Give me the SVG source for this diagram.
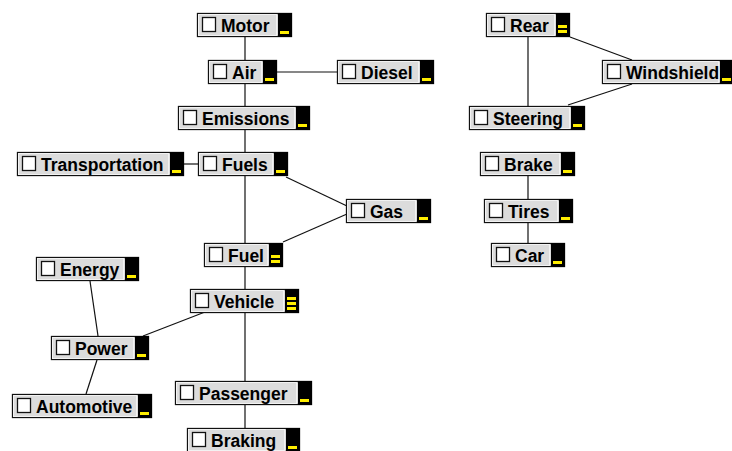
<svg xmlns="http://www.w3.org/2000/svg" width="732" height="451" viewBox="0 0 732 451">
<style>
.bx{fill:#dcdcdc;stroke:#111;stroke-width:1.3}
.bev{fill:none;stroke:#f2f2f2;stroke-width:1}
.blk{fill:#000}
.cb{fill:#fff;stroke:#111;stroke-width:1.3}
.yl{fill:#ffee00}
.lb{font-family:"Liberation Sans",Arial,sans-serif;font-weight:bold;font-size:17.5px;fill:#000}
.cn line{stroke:#111;stroke-width:1.2}
</style>
<rect width="732" height="451" fill="#fff"/>
<g class="cn" id="connectors">
<line x1="245" y1="37" x2="245" y2="60"/>
<line x1="245" y1="84" x2="245" y2="106"/>
<line x1="277" y1="72" x2="337" y2="72"/>
<line x1="245" y1="130" x2="245" y2="152"/>
<line x1="184" y1="164" x2="198" y2="164"/>
<line x1="286" y1="177" x2="347" y2="206"/>
<line x1="347" y1="214" x2="283" y2="242"/>
<line x1="245" y1="176" x2="245" y2="243"/>
<line x1="245" y1="267" x2="245" y2="289"/>
<line x1="205" y1="312" x2="143" y2="336"/>
<line x1="90" y1="281" x2="98" y2="336"/>
<line x1="97" y1="360" x2="86" y2="394"/>
<line x1="245" y1="313" x2="245" y2="381"/>
<line x1="245" y1="405" x2="245" y2="428"/>
<line x1="528" y1="37" x2="528" y2="106"/>
<line x1="570" y1="37" x2="632" y2="60"/>
<line x1="568" y1="105" x2="632" y2="84"/>
<line x1="528" y1="176" x2="528" y2="199"/>
<line x1="528" y1="223" x2="528" y2="243"/>
</g>
<g id="motor" transform="translate(197,13)"><rect class="bx" x="0.5" y="0.5" width="94" height="23"/><rect class="bev" x="1.5" y="1.5" width="78" height="21"/><rect class="blk" x="81" y="0" width="14" height="24"/><rect class="yl" x="83" y="18" width="9" height="3"/><rect class="cb" x="5.5" y="4.5" width="13" height="14"/><text class="lb" x="24" y="19">Motor</text></g>
<g id="air" transform="translate(208,60)"><rect class="bx" x="0.5" y="0.5" width="68" height="23"/><rect class="bev" x="1.5" y="1.5" width="52" height="21"/><rect class="blk" x="55" y="0" width="14" height="24"/><rect class="yl" x="57" y="18" width="9" height="3"/><rect class="cb" x="5.5" y="4.5" width="13" height="14"/><text class="lb" x="24" y="19">Air</text></g>
<g id="diesel" transform="translate(337,60)"><rect class="bx" x="0.5" y="0.5" width="96" height="23"/><rect class="bev" x="1.5" y="1.5" width="80" height="21"/><rect class="blk" x="83" y="0" width="14" height="24"/><rect class="yl" x="85" y="18" width="9" height="3"/><rect class="cb" x="5.5" y="4.5" width="13" height="14"/><text class="lb" x="24" y="19">Diesel</text></g>
<g id="emissions" transform="translate(178,106)"><rect class="bx" x="0.5" y="0.5" width="131" height="23"/><rect class="bev" x="1.5" y="1.5" width="115" height="21"/><rect class="blk" x="118" y="0" width="14" height="24"/><rect class="yl" x="120" y="18" width="9" height="3"/><rect class="cb" x="5.5" y="4.5" width="13" height="14"/><text class="lb" x="24" y="19">Emissions</text></g>
<g id="transportation" transform="translate(17,152)"><rect class="bx" x="0.5" y="0.5" width="166" height="23"/><rect class="bev" x="1.5" y="1.5" width="150" height="21"/><rect class="blk" x="153" y="0" width="14" height="24"/><rect class="yl" x="155" y="18" width="9" height="3"/><rect class="cb" x="5.5" y="4.5" width="13" height="14"/><text class="lb" x="24" y="19">Transportation</text></g>
<g id="fuels" transform="translate(198,152)"><rect class="bx" x="0.5" y="0.5" width="89" height="23"/><rect class="bev" x="1.5" y="1.5" width="73" height="21"/><rect class="blk" x="76" y="0" width="14" height="24"/><rect class="yl" x="78" y="18" width="9" height="3"/><rect class="cb" x="5.5" y="4.5" width="13" height="14"/><text class="lb" x="24" y="19">Fuels</text></g>
<g id="gas" transform="translate(346,199)"><rect class="bx" x="0.5" y="0.5" width="84" height="23"/><rect class="bev" x="1.5" y="1.5" width="68" height="21"/><rect class="blk" x="71" y="0" width="14" height="24"/><rect class="yl" x="73" y="18" width="9" height="3"/><rect class="cb" x="5.5" y="4.5" width="13" height="14"/><text class="lb" x="24" y="19">Gas</text></g>
<g id="fuel" transform="translate(204,243)"><rect class="bx" x="0.5" y="0.5" width="78" height="23"/><rect class="bev" x="1.5" y="1.5" width="62" height="21"/><rect class="blk" x="65" y="0" width="14" height="24"/><rect class="yl" x="67" y="12" width="9" height="3"/><rect class="yl" x="67" y="17" width="9" height="3"/><rect class="cb" x="5.5" y="4.5" width="13" height="14"/><text class="lb" x="24" y="19">Fuel</text></g>
<g id="vehicle" transform="translate(190,289)"><rect class="bx" x="0.5" y="0.5" width="108" height="23"/><rect class="bev" x="1.5" y="1.5" width="92" height="21"/><rect class="blk" x="95" y="0" width="14" height="24"/><rect class="yl" x="97" y="8" width="9" height="3"/><rect class="yl" x="97" y="13" width="9" height="3"/><rect class="yl" x="97" y="18" width="9" height="3"/><rect class="cb" x="5.5" y="4.5" width="13" height="14"/><text class="lb" x="24" y="19">Vehicle</text></g>
<g id="energy" transform="translate(36,257)"><rect class="bx" x="0.5" y="0.5" width="102" height="23"/><rect class="bev" x="1.5" y="1.5" width="86" height="21"/><rect class="blk" x="89" y="0" width="14" height="24"/><rect class="yl" x="91" y="18" width="9" height="3"/><rect class="cb" x="5.5" y="4.5" width="13" height="14"/><text class="lb" x="24" y="19">Energy</text></g>
<g id="power" transform="translate(51,336)"><rect class="bx" x="0.5" y="0.5" width="97" height="23"/><rect class="bev" x="1.5" y="1.5" width="81" height="21"/><rect class="blk" x="84" y="0" width="14" height="24"/><rect class="yl" x="86" y="18" width="9" height="3"/><rect class="cb" x="5.5" y="4.5" width="13" height="14"/><text class="lb" x="24" y="19">Power</text></g>
<g id="automotive" transform="translate(12,394)"><rect class="bx" x="0.5" y="0.5" width="139" height="23"/><rect class="bev" x="1.5" y="1.5" width="123" height="21"/><rect class="blk" x="126" y="0" width="14" height="24"/><rect class="yl" x="128" y="18" width="9" height="3"/><rect class="cb" x="5.5" y="4.5" width="13" height="14"/><text class="lb" x="24" y="19">Automotive</text></g>
<g id="passenger" transform="translate(175,381)"><rect class="bx" x="0.5" y="0.5" width="136" height="23"/><rect class="bev" x="1.5" y="1.5" width="120" height="21"/><rect class="blk" x="123" y="0" width="14" height="24"/><rect class="yl" x="125" y="18" width="9" height="3"/><rect class="cb" x="5.5" y="4.5" width="13" height="14"/><text class="lb" x="24" y="19">Passenger</text></g>
<g id="braking" transform="translate(187,428)"><rect class="bx" x="0.5" y="0.5" width="112" height="23"/><rect class="bev" x="1.5" y="1.5" width="96" height="21"/><rect class="blk" x="99" y="0" width="14" height="24"/><rect class="yl" x="101" y="18" width="9" height="3"/><rect class="cb" x="5.5" y="4.5" width="13" height="14"/><text class="lb" x="24" y="19">Braking</text></g>
<g id="rear" transform="translate(486,13)"><rect class="bx" x="0.5" y="0.5" width="83" height="23"/><rect class="bev" x="1.5" y="1.5" width="67" height="21"/><rect class="blk" x="70" y="0" width="14" height="24"/><rect class="yl" x="72" y="12" width="9" height="3"/><rect class="yl" x="72" y="17" width="9" height="3"/><rect class="cb" x="5.5" y="4.5" width="13" height="14"/><text class="lb" x="24" y="19">Rear</text></g>
<g id="windshield" transform="translate(602,60)"><rect class="bx" x="0.5" y="0.5" width="131" height="23"/><rect class="bev" x="1.5" y="1.5" width="115" height="21"/><rect class="blk" x="118" y="0" width="14" height="24"/><rect class="yl" x="120" y="18" width="9" height="3"/><rect class="cb" x="5.5" y="4.5" width="13" height="14"/><text class="lb" x="24" y="19">Windshield</text></g>
<g id="steering" transform="translate(469,106)"><rect class="bx" x="0.5" y="0.5" width="115" height="23"/><rect class="bev" x="1.5" y="1.5" width="99" height="21"/><rect class="blk" x="102" y="0" width="14" height="24"/><rect class="yl" x="104" y="18" width="9" height="3"/><rect class="cb" x="5.5" y="4.5" width="13" height="14"/><text class="lb" x="24" y="19">Steering</text></g>
<g id="brake" transform="translate(480,152)"><rect class="bx" x="0.5" y="0.5" width="94" height="23"/><rect class="bev" x="1.5" y="1.5" width="78" height="21"/><rect class="blk" x="81" y="0" width="14" height="24"/><rect class="yl" x="83" y="18" width="9" height="3"/><rect class="cb" x="5.5" y="4.5" width="13" height="14"/><text class="lb" x="24" y="19">Brake</text></g>
<g id="tires" transform="translate(484,199)"><rect class="bx" x="0.5" y="0.5" width="88" height="23"/><rect class="bev" x="1.5" y="1.5" width="72" height="21"/><rect class="blk" x="75" y="0" width="14" height="24"/><rect class="yl" x="77" y="18" width="9" height="3"/><rect class="cb" x="5.5" y="4.5" width="13" height="14"/><text class="lb" x="24" y="19">Tires</text></g>
<g id="car" transform="translate(491,243)"><rect class="bx" x="0.5" y="0.5" width="73" height="23"/><rect class="bev" x="1.5" y="1.5" width="57" height="21"/><rect class="blk" x="60" y="0" width="14" height="24"/><rect class="yl" x="62" y="18" width="9" height="3"/><rect class="cb" x="5.5" y="4.5" width="13" height="14"/><text class="lb" x="24" y="19">Car</text></g>
</svg>
